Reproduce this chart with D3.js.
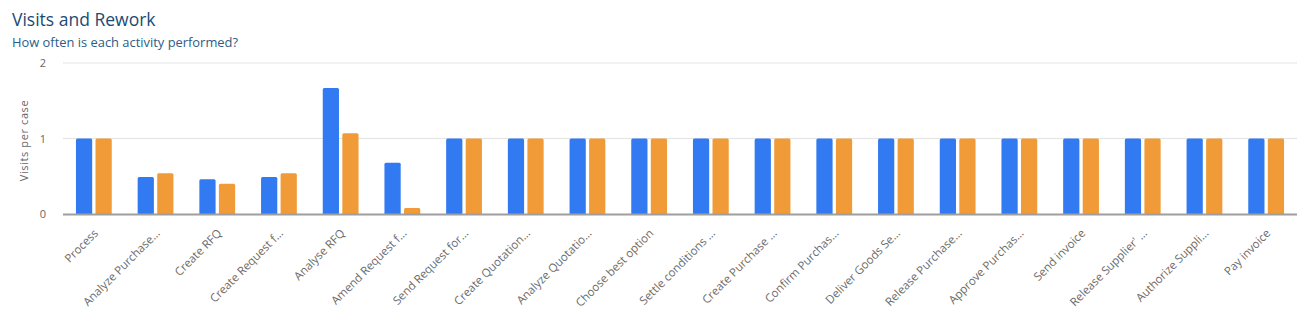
<!DOCTYPE html>
<html>
<head>
<meta charset="utf-8">
<script src="https://cdn.jsdelivr.net/npm/d3@7"></script>
<style>
  html, body { margin: 0; padding: 0; background: #fff; }
  svg { display: block; }
</style>
</head>
<body>
<svg id="chart" width="1306" height="324"></svg>
<script>
// Activities shown on the x axis (labels are truncated as displayed)
const activities = [
  "Process", "Analyze Purchase\u2026", "Create RFQ", "Create Request f\u2026",
  "Analyse RFQ", "Amend Request f\u2026", "Send Request for\u2026", "Create Quotation\u2026",
  "Analyze Quotatio\u2026", "Choose best option", "Settle conditions \u2026", "Create Purchase \u2026",
  "Confirm Purchas\u2026", "Deliver Goods Se\u2026", "Release Purchase\u2026", "Approve Purchas\u2026",
  "Send invoice", "Release Supplier' \u2026", "Authorize Suppli\u2026", "Pay invoice"
];

// Visits per case, first series (blue)
const visitsBlue = [1, 0.49, 0.46, 0.49, 1.67, 0.68, 1, 1, 1, 1, 1, 1, 1, 1, 1, 1, 1, 1, 1, 1];
// Visits per case, second series (orange)
const visitsOrange = [1, 0.54, 0.40, 0.54, 1.07, 0.08, 1, 1, 1, 1, 1, 1, 1, 1, 1, 1, 1, 1, 1, 1];

const yTicks = [0, 1, 2];
const seriesKeys = ["blue", "orange"];
const seriesColors = { blue: "#317af1", orange: "#f09b37" };

const svg = d3.select("#chart");
const margin = { left: 63, right: 9, top: 63, bottom: 110 };
const W = 1306, H = 324;
const plotBottom = 214;

const x = d3.scaleBand()
  .domain(activities)
  .range([margin.left, W - margin.right])
  .paddingInner(0.42)
  .paddingOuter(0.21);

const xSub = d3.scaleBand()
  .domain(seriesKeys)
  .range([0, x.bandwidth()])
  .paddingInner(0.17);

const y = d3.scaleLinear()
  .domain([0, 2])
  .range([plotBottom, margin.top]);

// Title and subtitle
svg.append("text")
  .attr("x", 12).attr("y", 26)
  .attr("font-family", "'Open Sans', sans-serif")
  .attr("font-size", 17.5)
  .attr("fill", "#1b4b73")
  .text("Visits and Rework");

svg.append("text")
  .attr("x", 12).attr("y", 47)
  .attr("font-family", "'Open Sans', sans-serif")
  .attr("font-size", 12.9)
  .attr("fill", "#2d5c86")
  .text("How often is each activity performed?");

// Horizontal gridlines
const grid = svg.append("g");
grid.selectAll("line")
  .data(yTicks.filter(d => d !== 0))
  .join("line")
  .attr("x1", margin.left).attr("x2", W - margin.right)
  .attr("y1", d => y(d)).attr("y2", d => y(d))
  .attr("stroke", "#e3e3e3").attr("stroke-width", 1);

// Y axis tick labels
const yAxis = d3.axisLeft(y).tickValues(yTicks).tickFormat(d3.format("d")).tickSize(0).tickPadding(17);
const yG = svg.append("g").attr("transform", `translate(${margin.left},0)`).call(yAxis);
yG.select(".domain").remove();
yG.selectAll("text")
  .attr("font-family", "'Open Sans', sans-serif")
  .attr("font-size", 11)
  .attr("fill", "#666");

// Y axis title
svg.append("text")
  .attr("transform", `translate(28,${(y(0) + y(2)) / 2 + 2}) rotate(-90)`)
  .attr("text-anchor", "middle")
  .attr("font-family", "'Open Sans', sans-serif")
  .attr("font-size", 11)
  .attr("fill", "#666")
  .attr("letter-spacing", 0.6)
  .text("Visits per case");

// Bars with slightly rounded tops
const rows = activities.map((a, i) => ({ activity: a, blue: visitsBlue[i], orange: visitsOrange[i] }));

function barPath(x0, w, yTop, yBase, r) {
  const rr = Math.min(r, (yBase - yTop) / 2, w / 2);
  return `M${x0},${yBase}V${yTop + rr}Q${x0},${yTop} ${x0 + rr},${yTop}` +
         `H${x0 + w - rr}Q${x0 + w},${yTop} ${x0 + w},${yTop + rr}V${yBase}Z`;
}

const groups = svg.append("g").selectAll("g")
  .data(rows)
  .join("g")
  .attr("transform", d => `translate(${x(d.activity)},0)`);

groups.selectAll("path")
  .data(d => seriesKeys.map(k => ({ key: k, value: d[k] })))
  .join("path")
  .attr("d", d => barPath(xSub(d.key), xSub.bandwidth(), y(d.value), y(0), 1.5))
  .attr("fill", d => seriesColors[d.key]);

// X axis baseline and rotated category labels
const xAxis = d3.axisBottom(x).tickSize(0).tickPadding(0);
const xG = svg.append("g").attr("transform", `translate(0,${plotBottom})`).call(xAxis);
xG.select(".domain")
  .attr("d", `M${margin.left},0.5H${W - margin.right}`)
  .attr("stroke", "#9e9e9e").attr("stroke-width", 2);
xG.selectAll(".tick text")
  .attr("font-family", "'Open Sans', sans-serif")
  .attr("font-size", 11.5)
  .attr("fill", "#6b6b6b")
  .attr("text-anchor", "end")
  .attr("dy", null)
  .attr("transform", "translate(5,20) rotate(-45)");
</script>
</body>
</html>
